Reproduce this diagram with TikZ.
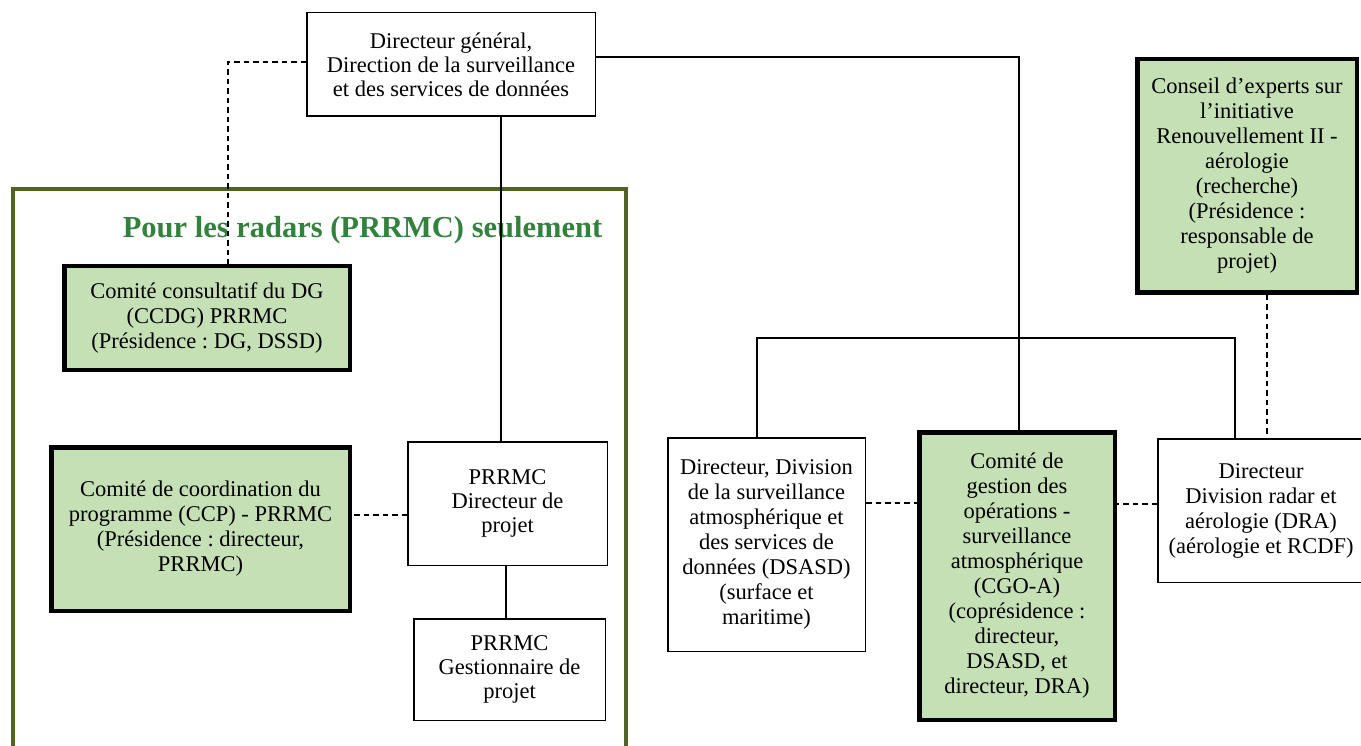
\documentclass[tikz,border=0pt]{standalone}
\usepackage{fontspec}
\setmainfont{Liberation Serif}
\frenchspacing
\definecolor{boxgreen}{RGB}{197,224,180}
\definecolor{framegreen}{RGB}{79,98,40}
\definecolor{titlegreen}{RGB}{50,130,62}
\tikzset{
  basebox/.style={draw=black, fill=white, line width=1.5pt, inner sep=0pt, align=center,
    font=\fontsize{22.5}{25}\selectfont},
  thinbox/.style={basebox},
  greenbox/.style={basebox, fill=boxgreen, line width=4.5pt},
  conn/.style={line width=1.5pt, draw=black},
  dconn/.style={conn, line width=1.8pt, dash pattern=on 5.5pt off 4pt},
}
\begin{document}
\begin{tikzpicture}[x=1pt,y=-1pt]
\useasboundingbox (0,0) rectangle (1361,746);
\clip (0,0) rectangle (1361,746);
% frame
\draw[framegreen, line width=4.5pt] (13,760) -- (13,189) -- (626,189) -- (626,760);
\node[anchor=base, inner sep=0pt, text=titlegreen, font=\fontsize{30.5}{34}\selectfont\bfseries] (title) at (362.5,237.5) {Pour les radars (PRRMC) seulement};
% nodes
\node[thinbox, minimum width=288.5pt, minimum height=103.5pt, font=\fontsize{22.5}{24}\selectfont] (dg) at (451,64.5) {Directeur général,\\Direction de la surveillance\\et des services de données};
\node[greenbox, minimum width=285.5pt, minimum height=103.5pt] (ccdg) at (207,318) {Comité consultatif du DG\\(CCDG) PRRMC\\(Présidence : DG, DSSD)};
\node[greenbox, minimum width=298.5pt, minimum height=163.5pt] (ccp) at (200.5,529) {Comité de coordination du\\programme (CCP) - PRRMC\\(Présidence : directeur,\\PRRMC)};
\node[thinbox, minimum width=199.5pt, minimum height=123.5pt, font=\fontsize{22.5}{24}\selectfont] (pdir) at (507.5,503.5) {PRRMC\\Directeur de\\projet};
\node[thinbox, minimum width=191.5pt, minimum height=101.5pt, font=\fontsize{22.5}{24}\selectfont] (pgest) at (509.5,669.5) {PRRMC\\Gestionnaire de\\projet};
\node[thinbox, minimum width=197.5pt, minimum height=213.5pt] (dsasd) at (766.5,544.5) {Directeur, Division\\de la surveillance\\atmosphérique et\\des services de\\données (DSASD)\\(surface et\\maritime)};
\node[greenbox, minimum width=195.5pt, minimum height=287.5pt] (cgoa) at (1017,576) {Comité de\\gestion des\\opérations -\\surveillance\\atmosphérique\\(CGO-A)\\(coprésidence :\\directeur,\\DSASD, et\\directeur, DRA)};
\node[thinbox, minimum width=206pt, minimum height=143.5pt] (dra) at (1261,510.5) {Directeur\\Division radar et\\aérologie (DRA)\\(aérologie et RCDF)};
\node[greenbox, minimum width=219.5pt, minimum height=233.5pt] (conseil) at (1247,176) {Conseil d’experts sur\\l’initiative\\Renouvellement II -\\aérologie\\(recherche)\\(Présidence :\\responsable de\\projet)};
\coordinate (bar) at (0,338);
% connectors
\draw[conn] ([yshift=7.5pt]dg.east) -| ([xshift=2pt]cgoa.north);
\draw[dconn] ([yshift=2.5pt]dg.west) -| ([xshift=21pt]ccdg.north);
\draw[conn] ([xshift=-6.5pt]pdir.north) -- ([xshift=-6.5pt]pdir.north |- dg.south);
\draw[dconn] ([yshift=-11.5pt]pdir.west) -- ([yshift=-11.5pt]pdir.west -| ccp.east);
\draw[conn] ([xshift=-3.5pt]pgest.north) -- ([xshift=-3.5pt]pgest.north |- pdir.south);
\draw[conn] ([xshift=-9.5pt]dsasd.north) -- ([xshift=-9.5pt]dsasd.north |- bar) -| ([xshift=-26pt]dra.north);
\draw[dconn] ([xshift=20pt]conseil.south) -- ([xshift=20pt]conseil.south |- dra.north);
\draw[dconn] ([yshift=41.5pt]dsasd.east) -- ([yshift=41.5pt]dsasd.east -| cgoa.west);
\draw[dconn] ([yshift=6.5pt]dra.west) -- ([yshift=6.5pt]dra.west -| cgoa.east);
\end{tikzpicture}
\end{document}
